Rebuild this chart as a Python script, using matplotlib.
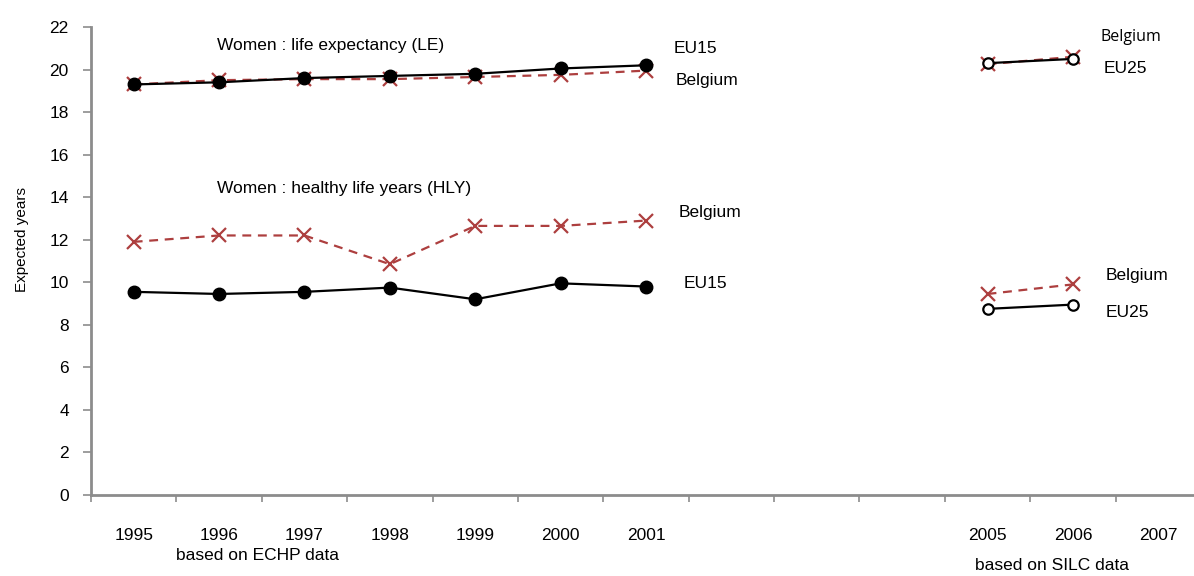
#!/usr/bin/env python3
"""Women: life expectancy and healthy life years, Belgium vs EU (ECHP and SILC)"""

from matplotlib import pyplot as plt
from matplotlib.ticker import FixedLocator

YEARS = ["1995", "1996", "1997", "1998", "1999", "2000", "2001",
         "", "", "", "2005", "2006", "2007"]
ECHP_YEARS = ["1995", "1996", "1997", "1998", "1999", "2000", "2001"]
SILC_YEARS = ["2005", "2006"]

# life expectancy (LE)
le_eu15 = [19.3, 19.4, 19.6, 19.7, 19.8, 20.05, 20.2]
le_belgium = [19.3, 19.5, 19.55, 19.55, 19.65, 19.75, 19.95]
le_eu25_silc = [20.3, 20.5]
le_belgium_silc = [20.25, 20.6]

# healthy life years (HLY)
hly_eu15 = [9.55, 9.45, 9.55, 9.75, 9.2, 9.95, 9.8]
hly_belgium = [11.9, 12.2, 12.2, 10.85, 12.65, 12.65, 12.9]
hly_eu25_silc = [8.75, 8.95]
hly_belgium_silc = [9.45, 9.9]

RED = "#AD3F3F"
GREY = "#8C8C8C"

plt.rcParams["font.family"] = ["Liberation Sans", "DejaVu Sans"]


def pos(labels):
    return [YEARS.index(y) for y in labels]


fig = plt.figure(figsize=(11.94, 5.76), dpi=100)
ax = fig.add_axes([91 / 1194, 81 / 576, 1110 / 1194, 468 / 576])

x_echp = pos(ECHP_YEARS)
x_silc = pos(SILC_YEARS)

belg = dict(color=RED, ls=(0, (4, 3)), lw=1.6, marker="x", ms=10, mew=1.6)
eu15 = dict(color="black", ls="-", lw=1.6, marker="o", ms=9)
eu25 = dict(color="black", ls="-", lw=1.6, marker="o", ms=7.5, mfc="white", mew=1.6)

ax.plot(x_echp, le_belgium, **belg)
ax.plot(x_echp, le_eu15, **eu15)
ax.plot(x_echp, hly_belgium, **belg)
ax.plot(x_echp, hly_eu15, **eu15)

ax.plot(x_silc, le_belgium_silc, **belg)
ax.plot(x_silc, le_eu25_silc, **eu25)
ax.plot(x_silc, hly_belgium_silc, **belg)
ax.plot(x_silc, hly_eu25_silc, **eu25)

fs = 12.5

ax.set_xlim(-0.5, len(YEARS) - 0.5)
ax.set_ylim(0, 22)
ax.set_yticks(range(0, 23, 2))
ax.set_xticks(range(len(YEARS)))
ax.set_xticklabels(YEARS)
ax.xaxis.set_minor_locator(FixedLocator([i - 0.5 for i in range(len(YEARS) + 1)]))
ax.tick_params(axis="x", which="major", length=0, pad=24, labelsize=fs)
ax.tick_params(axis="x", which="minor", length=5, width=1.2, color=GREY)
ax.tick_params(axis="y", length=6, width=1.2, color=GREY, labelsize=fs, pad=10)

for side in ("top", "right"):
    ax.spines[side].set_visible(False)
for side in ("left", "bottom"):
    ax.spines[side].set_color(GREY)
    ax.spines[side].set_linewidth(2)

ax.set_ylabel("Expected years", fontsize=11)
ax.yaxis.set_label_coords(-0.056, 0.545)

ax.text(0.98, 21.15, "Women : life expectancy (LE)", fontsize=fs, va="center")
ax.text(0.98, 14.4, "Women : healthy life years (HLY)", fontsize=fs, va="center")
ax.text(6.32, 21.0, "EU15", fontsize=fs, va="center")
ax.text(6.35, 19.5, "Belgium", fontsize=fs, va="center")
ax.text(6.38, 13.26, "Belgium", fontsize=fs, va="center")
ax.text(6.44, 9.92, "EU15", fontsize=fs, va="center")
ax.text(11.32, 21.53, "Belgium", fontsize=11.5, va="center", family="Open Sans")
ax.text(11.36, 20.03, "EU25", fontsize=fs, va="center")
ax.text(11.38, 10.3, "Belgium", fontsize=fs, va="center")
ax.text(11.38, 8.56, "EU25", fontsize=fs, va="center")

fig.text(258 / 1194, 1 - 556 / 576, "based on ECHP data", fontsize=fs, ha="center", va="center")
fig.text(1052 / 1194, 1 - 566 / 576, "based on SILC data", fontsize=fs, ha="center", va="center")

fig.savefig("out.png", dpi=100)
